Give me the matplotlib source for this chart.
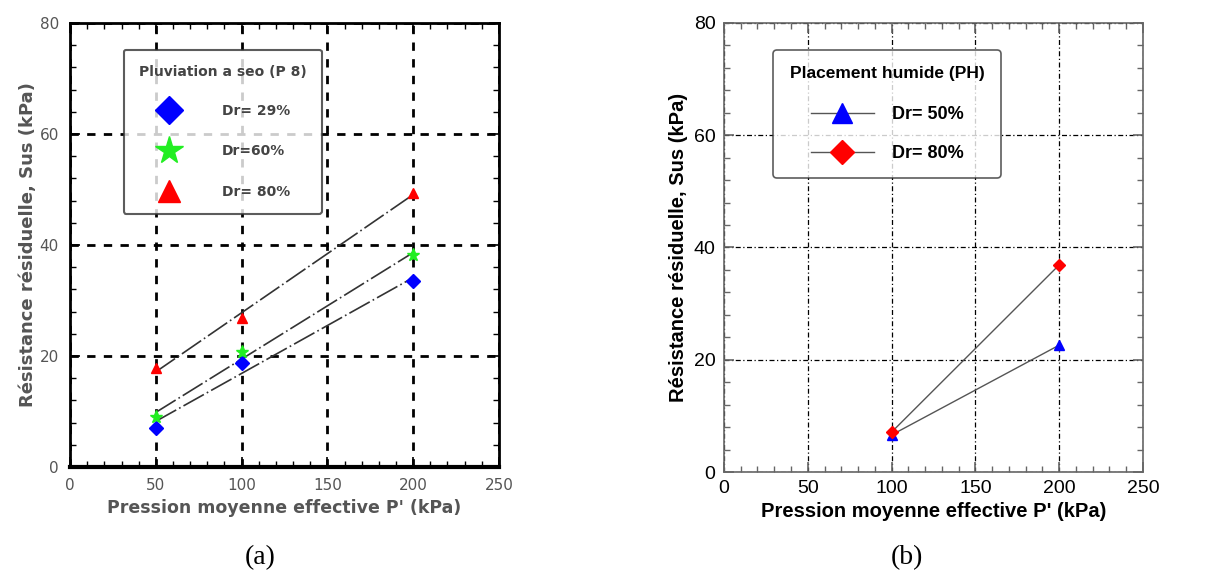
import numpy as np
import matplotlib
matplotlib.use("Agg")
import matplotlib.pyplot as plt
from matplotlib.ticker import MultipleLocator

# (a) pluviation a sec
p_a = [50, 100, 200]
sus_29 = [7.0, 18.7, 33.5]
sus_60 = [9.0, 20.7, 38.2]
sus_80a = [17.8, 26.8, 49.4]
labels_a = ["Dr= 29%", "Dr=60%", "Dr= 80%"]

# (b) placement humide
p_b = [100, 200]
sus_50 = [6.6, 22.6]
sus_80b = [7.1, 36.9]
labels_b = ["Dr= 50%", "Dr= 80%"]

xlabel_a = "Pression moyenne effective P' (kPa)"
xlabel_b = "Pression moyenne effective P' (kPa)"
ylabel = "Résistance résiduelle, Sus (kPa)"

fig = plt.figure(figsize=(12.08, 5.82), dpi=100)
ax1 = fig.add_axes([0.058, 0.1976, 0.355, 0.763])
ax2 = fig.add_axes([0.5993, 0.189, 0.3469, 0.7715])

def setup(ax, col, lw_spine, grid_ls, grid_lw):
    ax.set_xlim(0, 250)
    ax.set_ylim(0, 80)
    ax.xaxis.set_major_locator(MultipleLocator(50))
    ax.xaxis.set_minor_locator(MultipleLocator(10))
    ax.yaxis.set_major_locator(MultipleLocator(20))
    ax.yaxis.set_minor_locator(MultipleLocator(4))
    ax.tick_params(which="both", direction="in", top=True, right=True, color=col)
    ax.tick_params(which="major", length=7, width=1.2)
    ax.tick_params(which="minor", length=4, width=1)
    for s in ax.spines.values():
        s.set_color(col)
        s.set_linewidth(lw_spine)
    ax.grid(True, which="major", color="black", linestyle=grid_ls, linewidth=grid_lw)
    ax.set_axisbelow(True)

# ---- panel (a)
setup(ax1, "black", 2.0, (0, (3, 3)), 2.0)
ax1.spines["bottom"].set_linewidth(3)
ax1.tick_params(axis="both", labelcolor="#555555", labelsize=11, pad=8)

series_a = [(sus_29, "D", "#0000ff", 9), (sus_60, "*", "#22ee22", 13), (sus_80a, "^", "#ff0000", 10)]
for (ys, mk, c, ms), lab in zip(series_a, labels_a):
    k, b = np.polyfit(p_a, ys, 1)
    xx = np.array([p_a[0], p_a[-1]])
    ax1.plot(xx, k * xx + b, color="#333333", lw=1.2, linestyle=(0, (14, 2, 1, 2)), zorder=3)
    ax1.plot(p_a, ys, linestyle="none", marker=mk, color=c, markersize=ms * 0.75, zorder=4)
    ax1.plot([], [], linestyle="none", marker=mk, color=c, markersize=ms * 1.6, label=lab)

leg1 = ax1.legend(loc="upper left", bbox_to_anchor=(0.125, 0.94), title="Pluviation a seo (P 8)",
                  frameon=True, fancybox=True, edgecolor="#333333", labelspacing=1.9,
                  handletextpad=2.8, borderpad=1.1, borderaxespad=0,
                  prop={"weight": "bold", "size": 10}, title_fontproperties={"weight": "bold", "size": 10})
leg1._legend_box.sep = 18
leg1.get_frame().set_linewidth(1.5)
for t in leg1.get_texts():
    t.set_color("#444444")
leg1.get_title().set_color("#444444")

ax1.set_xlabel(xlabel_a, fontsize=12.5, fontweight="bold", color="#555555", labelpad=4)
ax1.set_ylabel(ylabel, fontsize=13, fontweight="bold", color="#555555", labelpad=2)

# ---- panel (b)
setup(ax2, "#666666", 1.2, (0, (4, 2, 1, 2)), 0.9)
ax2.tick_params(axis="both", labelcolor="black", labelsize=14, pad=6)
for t in ax2.get_xticklabels() + ax2.get_yticklabels():
    t.set_family("Liberation Sans")

ax2.plot(p_b, sus_50, color="#555555", lw=1.0, marker="^", markerfacecolor="#0000ff",
         markeredgecolor="#0000ff", markersize=7, label=labels_b[0], zorder=4)
ax2.plot(p_b, sus_80b, color="#555555", lw=1.0, marker="D", markerfacecolor="#ff0000",
         markeredgecolor="#ff0000", markersize=6, label=labels_b[1], zorder=4)

leg2 = ax2.legend(loc="upper left", bbox_to_anchor=(0.118, 0.94), title="Placement humide (PH)",
                  frameon=True, fancybox=True, edgecolor="#333333", labelspacing=1.2,
                  handlelength=3.5, handletextpad=1.0, borderpad=0.9, borderaxespad=0, markerscale=2.0,
                  prop={"weight": "bold", "size": 13, "family": "Liberation Sans"},
                  title_fontproperties={"weight": "bold", "size": 12.5, "family": "Liberation Sans"})
leg2._legend_box.sep = 18
leg2.get_frame().set_linewidth(1.2)

ax2.set_xlabel(xlabel_b, fontsize=14.5, fontweight="bold", family="Liberation Sans", labelpad=3)
ax2.set_ylabel(ylabel, fontsize=14.5, fontweight="bold", family="Liberation Sans", labelpad=4)

fig.text(0.215, 0.03, "(a)", family="Liberation Serif", fontsize=20, ha="center")
fig.text(0.751, 0.03, "(b)", family="Liberation Serif", fontsize=20, ha="center")

fig.savefig("out.png", dpi=100, facecolor="white")
